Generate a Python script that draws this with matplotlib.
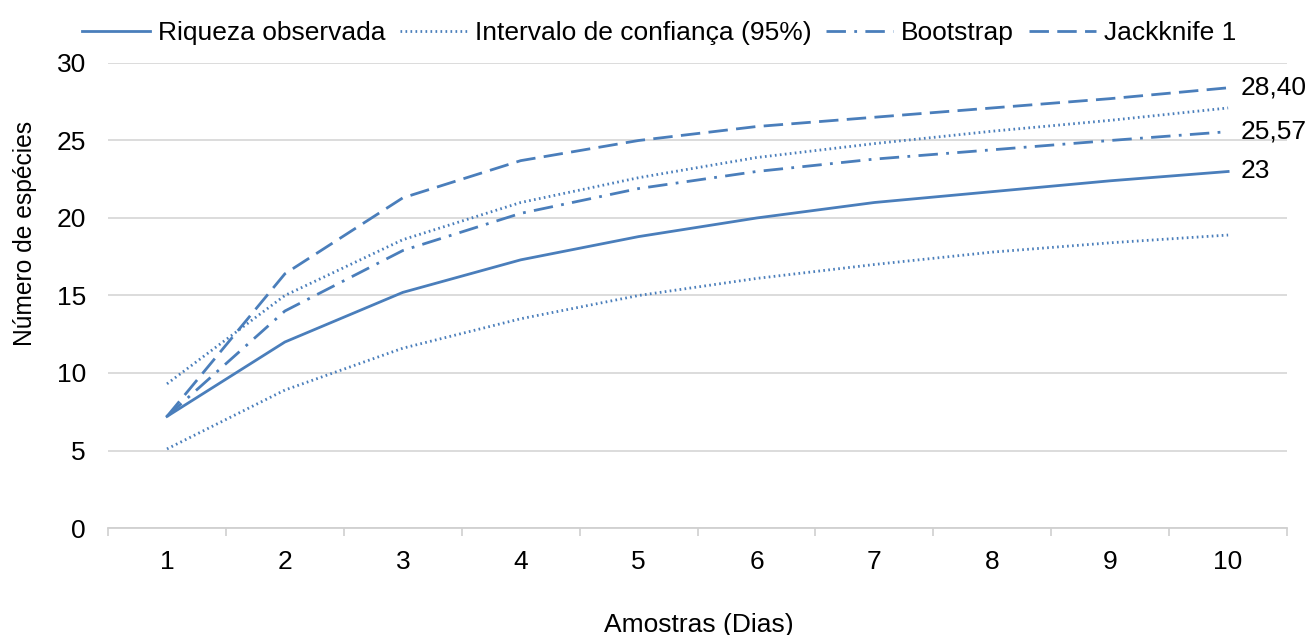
import matplotlib
matplotlib.use("Agg")
import matplotlib.pyplot as plt
from matplotlib.ticker import FixedLocator, NullFormatter

plt.rcParams['font.family'] = ['Liberation Sans', 'DejaVu Sans']

amostras = [1, 2, 3, 4, 5, 6, 7, 8, 9, 10]
riqueza = [7.2, 12.0, 15.2, 17.3, 18.8, 20.0, 21.0, 21.7, 22.4, 23.0]
ic_sup = [9.3, 15.0, 18.6, 21.0, 22.6, 23.9, 24.8, 25.6, 26.3, 27.1]
ic_inf = [5.1, 8.9, 11.6, 13.5, 15.0, 16.1, 17.0, 17.8, 18.4, 18.9]
bootstrap = [7.2, 14.0, 17.9, 20.3, 21.9, 23.0, 23.8, 24.4, 25.0, 25.57]
jackknife = [7.2, 16.4, 21.3, 23.7, 25.0, 25.9, 26.5, 27.1, 27.7, 28.40]

cor = '#4a7ebb'
lw = 2.0
fs = 19

fig = plt.figure(figsize=(13.08, 6.35), dpi=100)
ax = fig.add_axes([0.0826, 0.1685, 0.9014, 0.7323])

ax.plot(amostras, riqueza, color=cor, lw=lw, linestyle='-', label='Riqueza observada')
ax.plot(amostras, ic_sup, color=cor, lw=lw, linestyle=(0, (0.6, 1.2)), label='Intervalo de confiança (95%)')
ax.plot(amostras, ic_inf, color=cor, lw=lw, linestyle=(0, (0.6, 1.2)))
ax.plot(amostras, bootstrap, color=cor, lw=lw, linestyle=(0, (7, 3, 1, 3)), label='Bootstrap')
ax.plot(amostras, jackknife, color=cor, lw=lw, linestyle=(0, (7, 3)), label='Jackknife 1')

ax.set_xlim(0.5, 10.5)
ax.set_ylim(0, 30)
ax.set_yticks(range(0, 31, 5))
ax.set_xticks(amostras)
ax.xaxis.set_minor_locator(FixedLocator([i + 0.5 for i in range(0, 11)]))
ax.xaxis.set_minor_formatter(NullFormatter())
ax.tick_params(axis='x', which='major', length=0, pad=16, labelsize=fs, colors='#000000')
ax.tick_params(axis='x', which='minor', length=6, color='#d0d0d0', width=1.2)
ax.tick_params(axis='y', length=0, pad=16, labelsize=fs, colors='#000000')

ax.grid(axis='y', color='#d9d9d9', lw=1.3)
ax.set_axisbelow(True)
for s in ['top', 'right', 'left']:
    ax.spines[s].set_visible(False)
ax.spines['bottom'].set_color('#d0d0d0')
ax.spines['bottom'].set_linewidth(1.3)

ax.set_xlabel('Amostras (Dias)', fontsize=fs)
ax.xaxis.set_label_coords(0.501, -0.182)
ax.set_ylabel('Número de espécies', fontsize=17.7)
ax.yaxis.set_label_coords(-0.060, 0.634)

for serie, texto in [(jackknife, f'{jackknife[-1]:.2f}'.replace('.', ',')),
                     (bootstrap, f'{bootstrap[-1]:.2f}'.replace('.', ',')),
                     (riqueza, f'{riqueza[-1]:.0f}')]:
    ax.annotate(texto, xy=(amostras[-1], serie[-1]), xytext=(9, 0),
                textcoords='offset points', va='center', ha='left', fontsize=fs,
                annotation_clip=False)

fig.legend(loc='upper center', bbox_to_anchor=(0.504, 1.004), ncol=4, frameon=False,
           fontsize=fs, handlelength=2.55, columnspacing=0.55, handletextpad=0.3)

fig.savefig('out.png', dpi=100)
